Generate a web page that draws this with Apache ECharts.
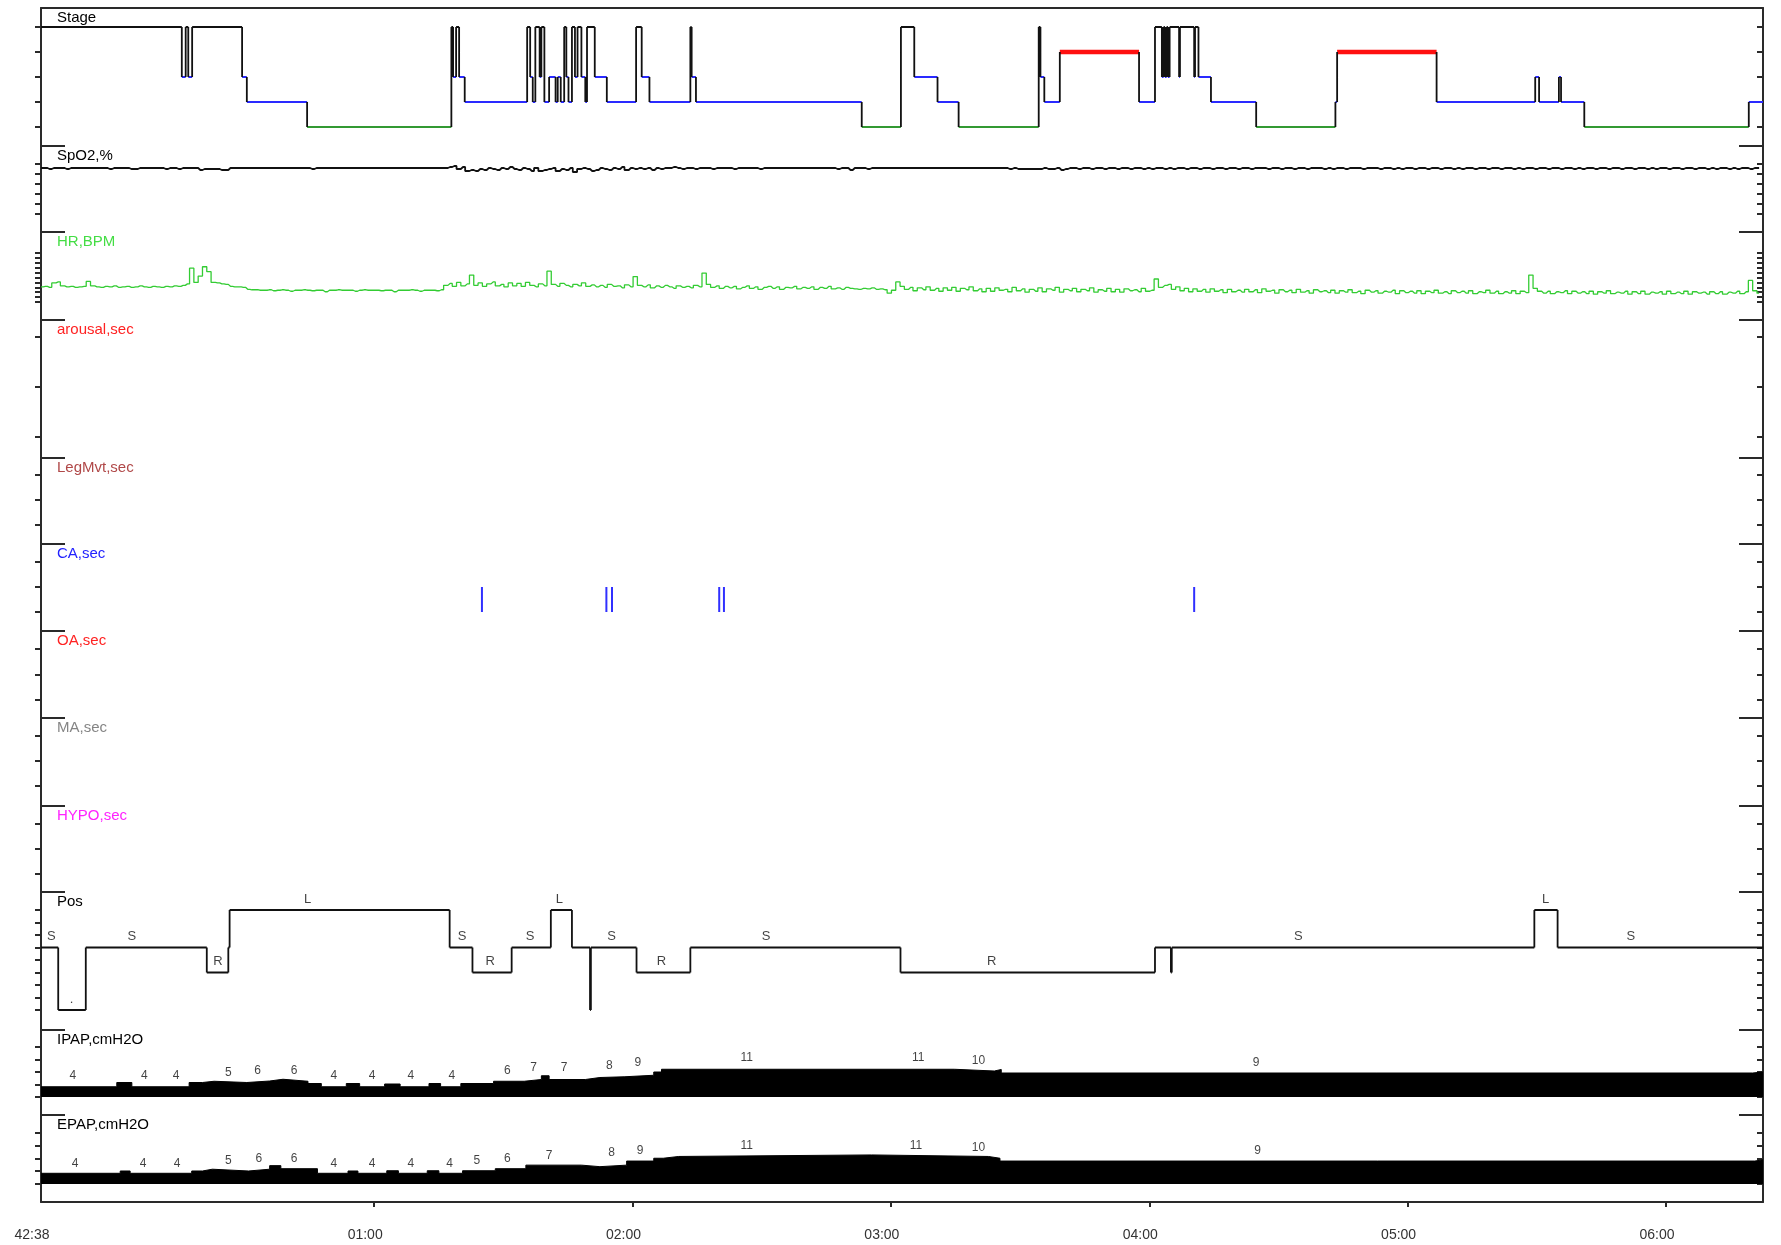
<!DOCTYPE html>
<html><head><meta charset="utf-8">
<script src="https://cdn.jsdelivr.net/npm/echarts@6/dist/echarts.min.js"></script>
<style>html,body{margin:0;padding:0;background:#fff}#c{width:1781px;height:1245px}</style>
</head><body><div id="c"></div>
<script>
// ---------------- DATA (time in minutes from 23:42:38) ----------------
const X_END = 399.9;
const xTickVals = [0, 77.37, 137.37, 197.37, 257.37, 317.37, 377.37];
const xTickLabels = ['42:38','01:00','02:00','03:00','04:00','05:00','06:00'];

// Sleep stage: 4=W, 3=REM, 2=N1, 1=N2, 0=N3
const stageT = [0,32.7,33.6,34.2,35.1,46.7,47.8,61.8,95.3,95.7,96.4,97.1,98.4,112.9,113.6,114.2,114.8,115.8,116.2,116.9,118.0,119.5,120.0,120.7,121.5,122.0,122.5,123.3,124.0,124.6,125.5,126.4,126.8,128.6,131.4,138.2,139.5,141.3,150.8,151.1,152.1,190.6,199.7,202.8,208.2,213.1,231.7,232.1,233.0,236.6,255.0,258.7,260.3,260.7,261.0,261.4,261.7,262.1,264.3,264.5,267.8,268.0,268.8,271.7,282.2,300.6,301.0,324.1,347.0,347.9,352.5,353.0,358.4,396.6];
const stageV = [4,2,4,2,4,2,1,0,4,2,4,2,1,4,2,1,4,2,4,1,2,1,2,1,4,2,1,4,2,4,2,1,4,2,1,4,2,1,4,2,1,0,4,2,1,0,4,2,1,3,1,4,2,4,2,4,2,4,2,4,2,4,2,1,0,1,3,1,2,1,2,1,0,1];
const stageTicks = [0,1,2,3,4];

// SpO2 (%), one value per minute
const spo2 = [
98,98,97.5,98,98,98,97.5,98,98,98, 98,98,98,98,98,98,97.5,98,98,98, 98,97.5,97.5,98,98,98,98,98,98,97.5,
98,98,97.5,98,98,98,98,97,97.5,97.5, 97.5,97.5,97,97,98,98,98,98,98,98, 98,98,98,98,98,98,98,98,98,98,
98,98,98,97.5,98,98,98,98,98,98, 98,98,98,98,98,98,98,98,98,98, 98,98,98,98,98,98,98,98,98,98,
98,98,98,98,98,98.5,99,97.5,98.5,96.5, 97,96.5,97.5,97,98,97.5,97,98,97.5,98.5, 97.5,97,98,97.5,96.5,98,96.5,97,97.5,98,
96.5,97.5,97,98,96,97.5,98,97.5,96.5,97, 98,97.5,97,98,97.5,98.5,97,98,97.5,98, 97.5,98,97,98,97.5,98,98,98.5,98,97.5,
98,98,97.5,98,98,98,97.5,98,98,98, 98,97.5,98,98,98,98,98,97.5,98,98, 98,98,98,98,98,98,98,98,98,98,
98,98,98,98,98,97.5,98,98,97,98, 98,98,97.5,98,98,98,98,98,98,98, 98,98,98,98,98,98,98,98,98,98,
98,98,98,98,98,98,98,98,98,98, 98,98,98,98,98,97.5,98,97.5,97.5,97.5, 97.5,97.5,97.5,98,97.5,97.5,98,97,97.5,98,
98,97.5,98,98,97.5,98,98,97.5,98,98, 97.5,98,98,97.5,98,98,97.5,98,97.5,98, 98,97.5,98,97.5,98,98,97.5,98,98,97.5,
98,98,97.5,98,98,97.5,98,98,97.5,98, 98,97.5,98,98,98,97.5,98,98,97.5,98, 98,97.5,98,98,97.5,98,98,98,97.5,98,
97.5,98,98,97.5,98,98,98,97.5,98,98, 98,97.5,98,98,97.5,98,97.5,98,98,97.5, 98,98,97.5,98,98,97.5,98,98,97.5,98,
97.5,98,98,97.5,98,98,97.5,98,98,97.5, 98,98,97.5,98,97.5,98,98,97.5,98,98, 97.5,98,98,97.5,98,98,97.5,98,97.5,98,
98,97.5,98,98,97.5,98,98,97.5,98,98, 97.5,98,98,97.5,98,97.5,98,98,97.5,98, 98,97.5,98,98,97.5,98,98,97.5,98,97.5,
98,98,97.5,98,97.5,98,98,97.5,98,98];
const spo2Ticks = [75,80,85,90,95,100];

// Heart rate (BPM), one value per minute
const hr = [
71,72,70,79,81,73,71,72,70,71, 72,82,73,71,70,72,71,73,70,71, 72,70,71,73,71,70,72,71,70,72,
71,73,72,74,77,109,80,93,112,102, 80,79,77,76,72,71,71,70,66,65, 65,64,64,65,63,64,65,64,62,64,
64,65,64,63,64,64,61,64,64,65, 64,64,64,62,64,65,64,64,64,63, 64,64,61,64,64,64,65,64,62,64,
64,64,63,65,74,78,72,80,73,77, 95,74,79,72,77,81,73,76,71,79, 73,78,72,80,74,71,77,73,103,76,
72,78,74,71,76,73,79,72,75,71, 74,70,76,72,73,69,75,71,92,74, 71,75,69,73,70,74,71,68,73,70,
72,69,74,71,99,76,70,73,68,72, 69,72,67,70,73,68,71,66,70,72, 68,71,66,70,69,72,67,70,68,71,
66,70,68,72,67,69,66,70,68,67, 66,68,67,69,66,67,65,58,64,81,
72,66,70,63,69,65,71,64,68,62, 69,64,70,62,68,65,71,63,67,61, 68,62,69,64,66,61,70,63,67,60,
66,62,69,61,67,64,70,60,66,63, 68,61,66,63,69,60,65,62,68,61, 66,60,67,63,65,61,68,62,64,87,
70,74,76,66,71,63,68,61,67,62, 66,60,67,62,65,59,66,61,64,60, 66,61,65,59,67,62,64,58,65,61,
64,59,66,60,63,58,65,61,63,59, 64,58,63,60,65,59,62,57,64,60, 63,58,62,60,64,57,63,59,62,58,
63,57,62,59,64,58,61,57,63,59, 62,58,63,57,61,59,64,58,62,57, 61,58,63,57,62,59,95,68,62,58,
62,57,61,59,63,57,62,58,61,57, 62,56,61,58,63,57,60,58,62,56, 61,57,62,56,60,58,61,56,62,57,
60,57,62,56,61,58,60,56,61,57, 61,56,60,58,62,57,61,84,63,58];
const hrTicks = [40,50,60,70,80,90,100,110,120,130,140];

const arousalTicks = [0,30,60];
const eventTicks = [0,10,20];

// Central apnea events: start time (min) and duration (sec)
const caT = [102.4,131.3,132.6,157.5,158.6,267.8];
const caDur = [10,10,10,10,10,10];

// Body position: 8=L, 5=S, 3=R, 0=other
const posT = [0,4.0,10.4,38.5,43.5,43.8,94.9,100.2,109.3,118.4,123.3,127.5,127.7,138.3,150.8,199.6,258.7,262.4,262.6,346.8,352.2];
const posV = [5,0,5,3,5,8,5,3,5,8,5,0,5,3,5,3,5,3,5,8,5];
const posTicks = [0,1,2,3,4,5,6,7,8];
const posLabT = [2.4,7.1,21.1,41.1,61.9,97.8,104.3,113.6,120.4,132.5,144.1,168.4,220.8,292,349.4,369.2];
const posLabV = [5,0,5,3,8,5,3,5,8,5,3,5,3,5,8,5];
const posLabText = ['S','.','S','R','L','S','R','S','L','S','R','S','R','S','L','S'];

// IPAP / EPAP (cmH2O)
const ipapT = [0,17.6,21.1,34.4,37.5,40.2,47.8,53.1,56.2,62.0,65.1,70.9,74.0,79.8,83.4,90.1,92.8,97.5,105.1,112.2,116.2,118.0,126.4,129.8,135.6,142.3,144.1,212.1,221.4,223.0,397.5];
const ipapV = [4.1,5.8,4.1,5.8,6.3,5.8,6.4,7.1,6.3,5.4,4.1,5.4,4.1,5.2,4.1,5.4,4.1,5.4,6.3,7.0,8.5,7.0,7.8,8.1,8.7,10.0,11.1,10.4,11.0,9.6,10.0];
const ipapLabT = [7.4,24,31.4,43.5,50.3,58.8,68,76.9,85.9,95.4,108.3,114.4,121.5,132,138.6,163.9,203.7,217.7,282.2];
const ipapLabV = [4,4,4,5,6,6,4,4,4,4,6,7,7,8,9,11,11,10,9];
const epapT = [0,18.4,20.7,35.0,37.5,39.8,48.2,53.1,55.7,64.2,71.3,73.6,80.3,83.0,89.7,92.4,97.9,105.5,112.6,125.5,129.8,136.0,142.3,144.5,148.1,192.9,220.0,222.7,398];
const epapV = [4.2,5.1,4.2,5.1,5.8,5.1,5.8,7.2,6.0,4.2,5.1,4.2,5.2,4.2,5.2,4.2,5.2,6.0,7.4,6.8,7.4,9.0,10.1,10.8,11.4,10.8,10.1,9.0,9.5];
const epapLabT = [7.9,23.7,31.6,43.5,50.6,58.8,68,76.9,85.9,94.9,101.2,108.3,118,132.5,139.1,163.9,203.2,217.7,282.5];
const epapLabV = [4,4,4,5,6,6,4,4,4,4,5,6,7,8,9,11,11,10,9];
const papTicks = [0,5,10,15,20];

// ---------------- LAYOUT ----------------
const FONT = '"Liberation Sans", Arial, sans-serif';
const AX = '#2a2a2a';
const panels = [
  {title:'Stage',       color:'#000000', top:8,    h:138, min:-0.76, max:4.76,  ticks:stageTicks},
  {title:'SpO2,%',      color:'#000000', top:146,  h:86,  min:66,    max:109,   ticks:spo2Ticks},
  {title:'HR,BPM',      color:'#44dd44', top:232,  h:88,  min:3.3,   max:182.9, ticks:hrTicks},
  {title:'arousal,sec', color:'#ff2222', top:320,  h:138, min:-12.6, max:70.2,  ticks:arousalTicks},
  {title:'LegMvt,sec',  color:'#b04848', top:458,  h:86,  min:-7.6,  max:26.8,  ticks:eventTicks},
  {title:'CA,sec',      color:'#2222ff', top:544,  h:87,  min:-7.6,  max:27.2,  ticks:eventTicks},
  {title:'OA,sec',      color:'#ff2222', top:631,  h:87,  min:-7.1,  max:27.1,  ticks:eventTicks},
  {title:'MA,sec',      color:'#858585', top:718,  h:88,  min:-7.9,  max:26.9,  ticks:eventTicks},
  {title:'HYPO,sec',    color:'#ff22ff', top:806,  h:86,  min:-7.1,  max:26.9,  ticks:eventTicks},
  {title:'Pos',         color:'#000000', top:892,  h:138, min:-1.6,  max:9.44,  ticks:posTicks},
  {title:'IPAP,cmH2O',  color:'#000000', top:1030, h:85,  min:-7.2,  max:26.8,  ticks:papTicks},
  {title:'EPAP,cmH2O',  color:'#000000', top:1115, h:87,  min:-7.06, max:27.06, ticks:papTicks}
];

const grids=[], xAxes=[], yAxes=[], titles=[];
const axLine = {color:AX, width:2};
panels.forEach((p,i)=>{
  grids.push({left:41, right:18, top:p.top, height:p.h, containLabel:false, outerBoundsMode:'none'});
  const xa = {gridIndex:i, type:'value', min:0, max:X_END, splitLine:{show:false},
    axisLabel:{show:false}, axisTick:{show:false}, axisLine:{show:false, onZero:false}};
  if (i===0) { xa.position='top'; xa.axisLine={show:true, onZero:false, lineStyle:axLine}; }
  if (i===panels.length-1) {
    xa.position='bottom';
    xa.axisLine={show:true, onZero:false, lineStyle:axLine};
    xa.axisTick={show:true, inside:false, length:5, customValues:xTickVals.slice(1), lineStyle:axLine};
    xa.axisLabel={show:true, customValues:xTickVals, margin:26, padding:[0,18,0,0],
      fontFamily:FONT, fontSize:14, color:'#333',
      formatter:(v)=>{let b=0; for(let k=1;k<xTickVals.length;k++){ if(Math.abs(xTickVals[k]-v)<Math.abs(xTickVals[b]-v)) b=k;} return xTickLabels[b];}};
  }
  xAxes.push(xa);
  const base = {gridIndex:i, type:'value', min:p.min, max:p.max, splitLine:{show:false}, axisLabel:{show:false}};
  yAxes.push(Object.assign({}, base, {position:'left', axisLine:{show:true,onZero:false,lineStyle:axLine},
    axisTick:{show:true, inside:false, length:6, customValues:p.ticks, lineStyle:axLine}}));
  yAxes.push(Object.assign({}, base, {position:'right', axisLine:{show:true,onZero:false,lineStyle:axLine},
    axisTick:{show:true, inside:true, length:6, customValues:p.ticks, lineStyle:axLine}}));
  yAxes.push(Object.assign({}, base, {position:'left', axisLine:{show:false,onZero:false},
    axisTick:{show:i>0, inside:true, length:24, customValues:[p.max], lineStyle:axLine}}));
  yAxes.push(Object.assign({}, base, {position:'right', axisLine:{show:false,onZero:false},
    axisTick:{show:i>0, inside:true, length:24, customValues:[p.max], lineStyle:axLine}}));
  titles.push({text:p.title, left:57, top:p.top+2, padding:0,
    textStyle:{fontFamily:FONT, fontSize:15, fontWeight:'normal', color:p.color}});
});

// build helpers (derived from the data arrays above)
function stepPts(T, V, end){
  const pts=[];
  for(let i=0;i<T.length;i++){ const t1 = i+1<T.length?T[i+1]:end; pts.push([T[i],V[i]],[t1,V[i]]); }
  return pts;
}
function segPts(T, V, end, pred){
  const pts=[];
  for(let i=0;i<T.length;i++){ const t1 = i+1<T.length?T[i+1]:end;
    if(pred(V[i])) pts.push([T[i],V[i]],[t1,V[i]],[t1,'-']); }
  return pts;
}
function vertPts(T, V){
  const pts=[];
  for(let i=1;i<T.length;i++) pts.push([T[i],V[i-1]],[T[i],V[i]],[T[i],'-']);
  return pts;
}
const Y = i => 4*i;
const lineBase = {type:'line', symbol:'none', animation:false, silent:true, connectNulls:false};
const LS = (color, width) => ({color:color, width:width, join:'bevel', cap:'butt'});
function labelSeries(i, T, V, texts, size, dist){
  return {type:'scatter', xAxisIndex:i, yAxisIndex:Y(i), symbolSize:1, animation:false, silent:true,
    itemStyle:{color:'rgba(0,0,0,0)'},
    data:T.map((t,k)=>[t,V[k]]),
    label:{show:true, position:'top', distance:dist, fontFamily:FONT, fontSize:size, color:'#111',
      formatter:(p)=>texts[p.dataIndex]}};
}
const L = (ax, data, style, extra) => Object.assign({}, lineBase, {xAxisIndex:ax, yAxisIndex:Y(ax), data:data, lineStyle:style}, extra||{});

const series = [
  L(0, segPts(stageT,stageV,X_END,v=>v===4), LS('#111',1.8)),
  L(0, segPts(stageT,stageV,X_END,v=>v===1||v===2), LS('#2a2aff',2)),
  L(0, segPts(stageT,stageV,X_END,v=>v===0), LS('#339933',2)),
  L(0, segPts(stageT,stageV,X_END,v=>v===3), LS('#ff1010',4.5)),
  L(0, vertPts(stageT,stageV), LS('#111',1.8)),
  L(1, spo2.map((v,k)=>[k,v]), LS('#111',1.8), {step:'middle'}),
  L(2, hr.map((v,k)=>[k,v]), LS('#33cc33',1.3), {step:'middle'}),
  {type:'bar', xAxisIndex:5, yAxisIndex:Y(5), barWidth:2, animation:false, silent:true,
    itemStyle:{color:'#3030ff'}, data:caT.map((t,k)=>[t,caDur[k]])},
  L(9, segPts(posT,posV,X_END,()=>true), LS('#111',1.8)),
  L(9, vertPts(posT,posV), LS('#111',1.8)),
  labelSeries(9, posLabT, posLabV, posLabText, 13, 4),
  L(10, stepPts(ipapT,ipapV,X_END), LS('#000',1), {areaStyle:{color:'#000', opacity:1}}),
  labelSeries(10, ipapLabT, ipapLabV, ipapLabV.map(String), 12, 5),
  L(11, stepPts(epapT,epapV,X_END), LS('#000',1), {areaStyle:{color:'#000', opacity:1}}),
  labelSeries(11, epapLabT, epapLabV, epapLabV.map(String), 12, 4)
];

const chart = echarts.init(document.getElementById('c'), null, {renderer:'canvas'});
chart.setOption({backgroundColor:'#fff', animation:false, title:titles, grid:grids, xAxis:xAxes, yAxis:yAxes, series:series});
</script></body></html>
